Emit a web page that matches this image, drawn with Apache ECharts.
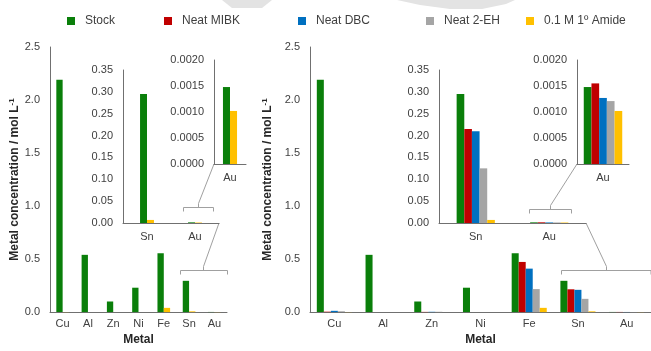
<!DOCTYPE html>
<html>
<head>
<meta charset="utf-8">
<script src="https://cdn.jsdelivr.net/npm/echarts@6/dist/echarts.min.js"></script>
<style>html,body{margin:0;padding:0;background:#fff}#c{width:651px;height:351px}</style>
</head>
<body>
<div id="c"></div>
<script>
// ---- data ----
var metals = ['Cu', 'Al', 'Zn', 'Ni', 'Fe', 'Sn', 'Au'];
var stock = [2.19, 0.54, 0.10, 0.23, 0.555, 0.295, 0.00148];
var mibk  = [0.004, 0, 0.002, 0, 0.473, 0.215, 0.00155];
var dbc   = [0.012, 0, 0.003, 0, 0.41, 0.21, 0.00127];
var eh    = [0.008, 0, 0.003, 0, 0.217, 0.125, 0.00121];
var amide = [0.001, 0, 0, 0, 0.04, 0.007, 0.00102];
var seriesNames = ['Stock', 'Neat MIBK', 'Neat DBC', 'Neat 2-EH', '0.1 M 1\u00ba Amide'];
var mainTicks = {min: 0, max: 2.5, interval: 0.5, digits: 1};
var inset1Ticks = {min: 0, max: 0.35, interval: 0.05, digits: 2};
var inset2Ticks = {min: 0, max: 0.002, interval: 0.0005, digits: 4};

var colors = ['#0a7f0a', '#c00000', '#0070c0', '#a5a5a5', '#ffc000'];
var allData = [stock, mibk, dbc, eh, amide];
var FONT = 'Liberation Sans, Arial, sans-serif';
var AX = '#707070';
var TXT = '#404040';

var grids = [
  {left: 50, top: 47, width: 177, height: 269},   // 0 left main
  {left: 310, top: 47, width: 342, height: 269},  // 1 right main
  {left: 123, top: 70, width: 96, height: 153},   // 2 left inset Sn/Au
  {left: 214, top: 60, width: 32, height: 104},   // 3 left inset Au
  {left: 439, top: 70, width: 147, height: 153},  // 4 right inset Sn/Au
  {left: 577, top: 60, width: 52, height: 104}    // 5 right inset Au
];
var gridCats = [metals, metals, metals.slice(5), metals.slice(6), metals.slice(5), metals.slice(6)];
var gridTicks = [mainTicks, mainTicks, inset1Ticks, inset2Ticks, inset1Ticks, inset2Ticks];
var gridSeries = [[0, 4], [0, 1, 2, 3, 4], [0, 4], [0, 4], [0, 1, 2, 3, 4], [0, 1, 2, 3, 4]];
var gridGap = ['50%', '28%', '71%', '56%', '48%', '26%'];
var isMain = [true, true, false, false, false, false];

var xAxes = [], yAxes = [], series = [];
grids.forEach(function (g, i) {
  var t = gridTicks[i];
  xAxes.push({
    type: 'category', gridIndex: i, data: gridCats[i],
    axisLine: {show: true, lineStyle: {color: AX, width: 1}},
    axisTick: {show: false},
    axisLabel: {color: TXT, fontSize: 11, fontFamily: FONT, margin: isMain[i] ? 6 : 8},
    name: isMain[i] ? 'Metal' : '', nameLocation: 'middle', nameGap: 21,
    nameTextStyle: {color: '#262626', fontSize: 12, fontWeight: 'bold', fontFamily: FONT}
  });
  yAxes.push({
    type: 'value', gridIndex: i, min: t.min, max: t.max, interval: t.interval,
    axisLine: {show: true, lineStyle: {color: AX, width: 1}},
    axisTick: {show: false}, splitLine: {show: false},
    axisLabel: {color: TXT, fontSize: 11, fontFamily: FONT, margin: 10,
      formatter: (function (d) { return function (v) { return v.toFixed(d); }; })(t.digits)},
    name: isMain[i] ? '{a|Metal concentration / mol L}{s|-1}' : '',
    nameLocation: 'middle', nameGap: 28,
    nameTextStyle: {color: '#262626', fontFamily: FONT,
      rich: {a: {fontSize: 12, fontWeight: 'bold', color: '#262626', fontFamily: FONT, lineHeight: 14},
             s: {fontSize: 8, fontWeight: 'bold', color: '#262626', fontFamily: FONT, verticalAlign: 'top', lineHeight: 14}}}
  });
  var start = gridCats[i] === metals ? 0 : metals.indexOf(gridCats[i][0]);
  gridSeries[i].forEach(function (s) {
    series.push({
      type: 'bar', name: seriesNames[s], xAxisIndex: i, yAxisIndex: i,
      data: allData[s].slice(start),
      itemStyle: {color: colors[s]},
      barGap: '0%', barCategoryGap: gridGap[i],
      animation: false, silent: true
    });
  });
});

// legend, one component per entry
var legendSquareLeft = [67, 164, 298, 426, 526];
var legends = seriesNames.map(function (n, k) {
  return {
    data: [n], left: legendSquareLeft[k], top: 15, padding: 0,
    icon: 'rect', itemWidth: 8, itemHeight: 8, selectedMode: false,
    textStyle: {color: TXT, fontSize: 12, fontFamily: FONT, padding: [0, 0, 0, 5]}
  };
});

// zoom brackets (annotation lines)
function bracket(x1, x2, xm, y, tx, ty) {
  var st = {stroke: '#a0a0a0', lineWidth: 1, fill: null};
  return [
    {type: 'polyline', shape: {points: [[x1, y + 4], [x1, y], [x2, y], [x2, y + 4]]}, style: st, silent: true},
    {type: 'polyline', shape: {points: [[xm, y], [xm, y - 4], [tx, ty]]}, style: st, silent: true}
  ];
}
var graphics = [].concat(
  bracket(180.5, 227.5, 203.5, 270.5, 219, 223),
  bracket(183.5, 213.5, 198.5, 207.5, 214, 164),
  bracket(561.5, 651, 606.5, 270.5, 586, 223),
  bracket(529.5, 571.5, 550.5, 209.5, 577, 164),
  [
    {type: 'polygon', shape: {points: [[222, 0], [272, 0], [262, 8], [232, 8]]}, style: {fill: '#e3e3e3'}, silent: true, z: -1},
    {type: 'polygon', shape: {points: [[397, 0], [515, 0], [506, 4], [482, 9], [450, 9], [420, 5]]}, style: {fill: '#e3e3e3'}, silent: true, z: -1}
  ]
);

var chart = echarts.init(document.getElementById('c'), null, {renderer: 'canvas'});
chart.setOption({
  animation: false,
  backgroundColor: '#ffffff',
  textStyle: {fontFamily: FONT},
  legend: legends,
  grid: grids.map(function (g) { return Object.assign({containLabel: false}, g); }),
  xAxis: xAxes,
  yAxis: yAxes,
  series: series,
  graphic: graphics
});
</script>
</body>
</html>
